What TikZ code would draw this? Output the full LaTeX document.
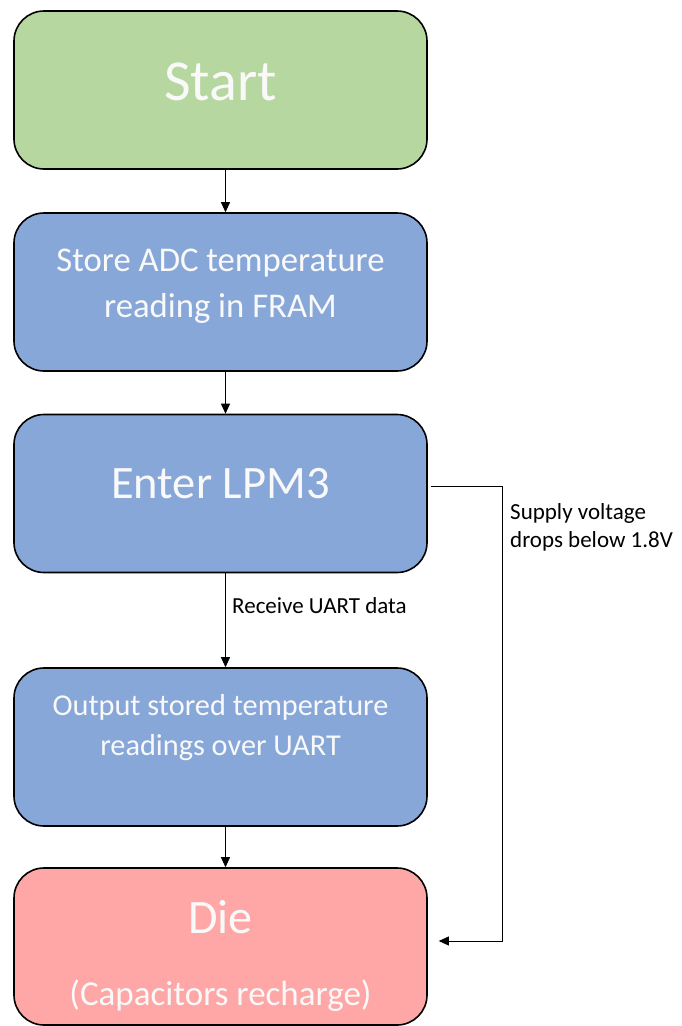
\documentclass[tikz,border=0pt]{standalone}
\usepackage{fontspec}
\setmainfont{Carlito}
\usetikzlibrary{arrows.meta,calc}
\definecolor{startgreen}{HTML}{B7D7A0}
\definecolor{stepblue}{HTML}{88A7D9}
\definecolor{diepink}{HTML}{FFA7A7}
\definecolor{boxtext}{HTML}{F9F9F9}
\tikzset{
  flowbox/.style={draw=black, line width=1.6pt, rounded corners=30pt,
    minimum width=413pt, minimum height=158pt, inner sep=0pt},
  boxlabel/.style={text=boxtext, anchor=base, inner sep=0pt, align=center},
  edgelabel/.style={text=black, anchor=base west, inner sep=0pt, align=left,
    font=\fontsize{23}{28}\selectfont},
  arr/.style={draw=black, line width=0.8pt, -{Triangle[length=10pt,width=9pt]}}
}
\begin{document}
\begin{tikzpicture}[x=1pt,y=-1pt]
\useasboundingbox (0,0) rectangle (681,1026);
% boxes
\node[flowbox, fill=startgreen] (start) at (220.5,90) {};
\node[flowbox, fill=stepblue] (store) at (220.5,292) {};
\node[flowbox, fill=stepblue] (enter) at (220.5,493.5) {};
\node[flowbox, fill=stepblue] (output) at (220.5,747) {};
\node[flowbox, fill=diepink, minimum height=157pt] (die) at (220.5,946.5) {};
% box texts
\node[boxlabel, font=\fontsize{58}{70}\selectfont] (tstart) at (220.5,100) {Start};
\node[boxlabel, font=\fontsize{34.7}{46}\selectfont] (tstore1) at (220.5,271) {Store ADC temperature};
\node[boxlabel, font=\fontsize{34.7}{46}\selectfont] (tstore2) at (220.5,317) {reading in FRAM};
\node[boxlabel, font=\fontsize{46.5}{56}\selectfont] (tenter) at (220.5,498) {Enter LPM3};
\node[boxlabel, font=\fontsize{30.3}{40}\selectfont] (tout1) at (220.5,715) {Output stored temperature};
\node[boxlabel, font=\fontsize{30.3}{40}\selectfont] (tout2) at (220.5,755) {readings over UART};
\node[boxlabel, font=\fontsize{48}{56}\selectfont] (tdie1) at (220.5,933) {Die};
\node[boxlabel, font=\fontsize{35}{40}\selectfont] (tdie2) at (220.5,1005) {(Capacitors recharge)};
% arrow column
\coordinate (ax) at (225.5,0);
\coordinate (fbx) at (502,0);
\draw[arr] (start.south -| ax) -- (store.north -| ax);
\draw[arr] (store.south -| ax) -- (enter.north -| ax);
\draw[arr] (enter.south -| ax) -- (output.north -| ax);
\draw[arr] (output.south -| ax) -- (die.north -| ax);
% feedback
\coordinate (fbS) at ($(enter.east)+(3,-7.5)$);
\coordinate (fbE) at ($(die.east)+(11,-5.5)$);
\draw[arr] (fbS) -- (fbx |- fbS) -- (fbx |- fbE) -- (fbE);
% labels
\node[edgelabel] (lrecv) at (232,613) {Receive UART data};
\node[edgelabel] (lsupply1) at (510,519) {Supply voltage};
\node[edgelabel] (lsupply2) at (510,547) {drops below 1.8V};
\end{tikzpicture}
\end{document}
